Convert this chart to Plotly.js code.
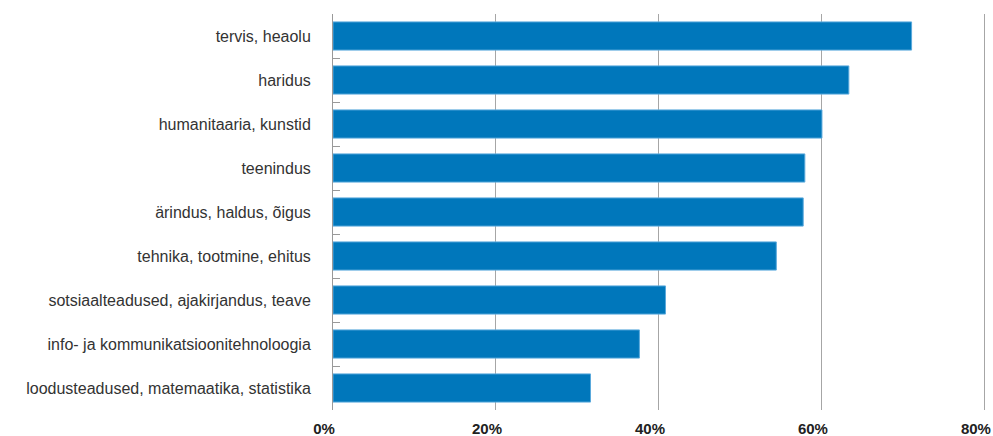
<!DOCTYPE html>
<html>
<head>
<meta charset="utf-8">
<script src="https://cdn.plot.ly/plotly-3.0.1.min.js"></script>
<style>html,body{margin:0;padding:0;background:#fff;}#chart{width:993px;height:436px;}</style>
</head>
<body>
<div id="chart"></div>
<script>
const categories = [
  "tervis, heaolu",
  "haridus",
  "humanitaaria, kunstid",
  "teenindus",
  "ärindus, haldus, õigus",
  "tehnika, tootmine, ehitus",
  "sotsiaalteadused, ajakirjandus, teave",
  "info- ja kommunikatsioonitehnoloogia",
  "loodusteadused, matemaatika, statistika"
];
const values = [71.0, 63.3, 60.0, 57.9, 57.7, 54.4, 40.8, 37.6, 31.6];
const tickVals = [0, 20, 40, 60, 80];
const tickText = ["0%", "20%", "40%", "60%", "80%"];

const trace = {
  type: "bar",
  orientation: "h",
  x: values,
  y: categories,
  marker: {color: "#0077bb", line: {color: "#5aa9dc", width: 1}},
  hoverinfo: "x+y"
};

const layout = {
  width: 993,
  height: 436,
  margin: {l: 333, r: 4, t: 14, b: 26},
  paper_bgcolor: "#ffffff",
  plot_bgcolor: "#ffffff",
  showlegend: false,
  bargap: 0.36,
  font: {family: "Liberation Sans, Arial, sans-serif", size: 14, color: "#333333"},
  xaxis: {
    range: [0, 80.5],
    tickvals: tickVals,
    ticktext: tickText,
    showgrid: true,
    gridcolor: "#a6a6a6",
    gridwidth: 1,
    zeroline: false,
    showline: false,
    ticks: "outside",
    ticklen: 5,
    tickcolor: "rgba(0,0,0,0)",
    ticklabelshift: -9,
    ticklabeloverflow: "allow",
    tickfont: {family: "Liberation Sans, Arial, sans-serif", size: 15, color: "#222222", weight: "bold"},
    fixedrange: true
  },
  yaxis: {
    autorange: "reversed",
    showline: true,
    linecolor: "#999999",
    linewidth: 1,
    ticks: "inside",
    tickson: "boundaries",
    ticklen: 7,
    tickcolor: "#999999",
    showgrid: false,
    ticklabelstandoff: 18,
    tickfont: {family: "Liberation Sans, Arial, sans-serif", size: 16, color: "#333333"},
    fixedrange: true
  }
};

Plotly.newPlot("chart", [trace], layout, {displayModeBar: false, staticPlot: true});
</script>
</body>
</html>
